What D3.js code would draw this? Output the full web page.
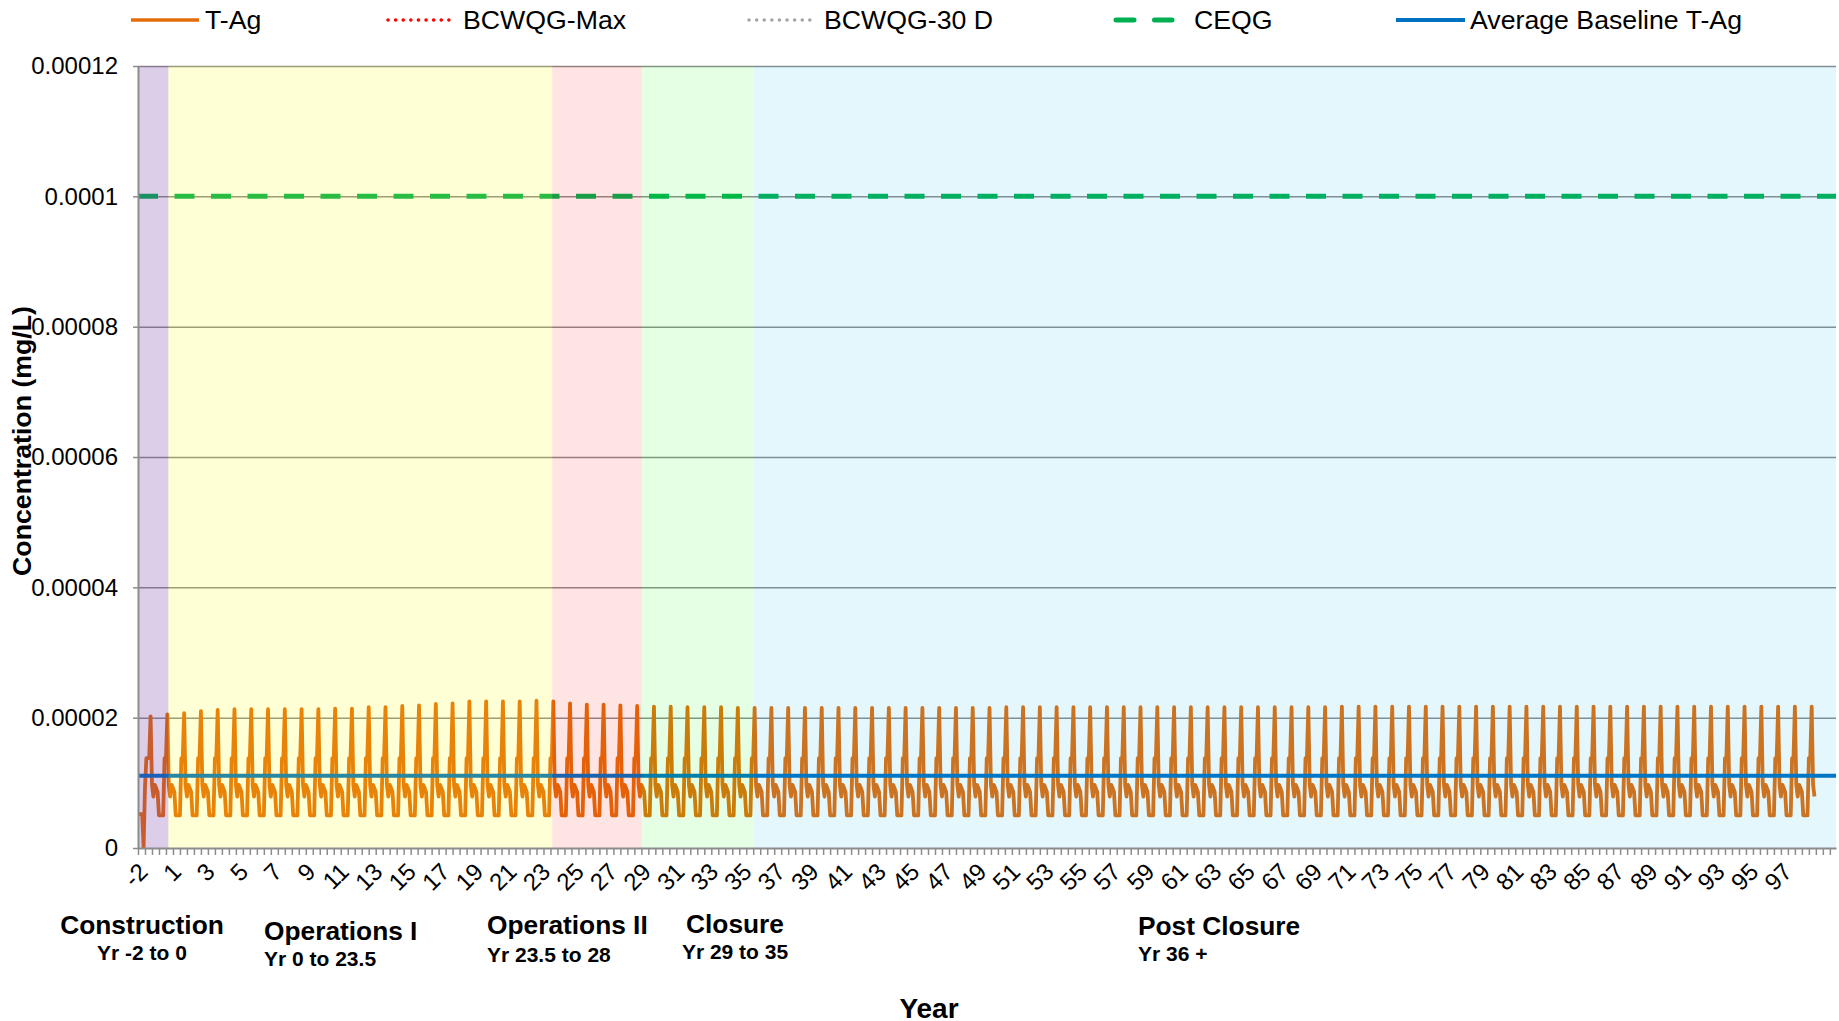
<!DOCTYPE html>
<html><head><meta charset="utf-8">
<script src="https://cdn.jsdelivr.net/npm/d3@7"></script>
<style>
body{margin:0;background:#fff;}
svg{display:block;font-family:"Liberation Sans",Arial,sans-serif;}
</style>
</head><body>
<svg id="chart" width="1839" height="1021"></svg>
<script>
// ---------------- DATA ----------------
// Annual peak of T-Ag (mg/L), years -2 .. 97 (one freshet peak per year)
const annualPeak = [
 2.02e-5,2.05e-5,2.07e-5,2.10e-5,2.12e-5,2.13e-5,2.13e-5,2.13e-5,2.13e-5,2.13e-5,
 2.13e-5,2.14e-5,2.14e-5,2.16e-5,2.16e-5,2.18e-5,2.19e-5,2.21e-5,2.22e-5,2.25e-5,
 2.25e-5,2.25e-5,2.25e-5,2.26e-5,2.25e-5,2.22e-5,2.20e-5,2.20e-5,2.19e-5,2.18e-5,
 2.17e-5,2.17e-5,2.16e-5,2.16e-5,2.16e-5,2.15e-5,2.15e-5,2.15e-5,2.15e-5,2.15e-5,
 2.15e-5,2.15e-5,2.15e-5,2.15e-5,2.15e-5,2.15e-5,2.15e-5,2.15e-5,2.15e-5,2.15e-5,
 2.15e-5,2.16e-5,2.16e-5,2.16e-5,2.16e-5,2.16e-5,2.16e-5,2.16e-5,2.16e-5,2.16e-5,
 2.16e-5,2.16e-5,2.16e-5,2.16e-5,2.16e-5,2.16e-5,2.16e-5,2.16e-5,2.16e-5,2.16e-5,
 2.16e-5,2.17e-5,2.17e-5,2.17e-5,2.17e-5,2.17e-5,2.17e-5,2.17e-5,2.17e-5,2.17e-5,
 2.17e-5,2.17e-5,2.17e-5,2.17e-5,2.17e-5,2.17e-5,2.17e-5,2.17e-5,2.17e-5,2.17e-5,
 2.17e-5,2.17e-5,2.17e-5,2.17e-5,2.17e-5,2.17e-5,2.17e-5,2.17e-5,2.17e-5,2.17e-5
];
// Typical monthly T-Ag values within a year (month 9 = annual peak, taken from annualPeak)
const monthlyProfile = [9.7e-6, 9.2e-6, 8.6e-6, 5.0e-6, 5.0e-6, 5.0e-6, 5.0e-6, 1.38e-5, 1.38e-5, null, 9.7e-6, 7.9e-6];
// First months of construction (year -2), before the first peak
const constructionStartMonths = [5.2e-6, 5.2e-6, 5.2e-6, 5.2e-6, 0.1e-6, 9.4e-6, 1.38e-5, 1.38e-5, 1.38e-5];
const firstYear = -2;

const avgBaseline = 1.11e-5;      // Average Baseline T-Ag
const ceqg = 0.0001;              // CEQG
const bcwqgMax = 0.003;           // off-scale
const bcwqg30 = 0.0015;           // off-scale

// Project phases (band edges in years as drawn)
const phaseNames = ["Construction", "Operations I", "Operations II", "Closure", "Post Closure"];
const phaseRanges = ["Yr -2 to 0", "Yr 0 to 23.5", "Yr 23.5 to 28", "Yr 29 to 35", "Yr 36 +"];
const phaseStart = [-2, -0.19, 22.69, 28.02, 34.71];
const phaseEnd = [-0.19, 22.69, 28.02, 34.71, 99.2];

// Axes
const yTickValues = [0, 0.00002, 0.00004, 0.00006, 0.00008, 0.0001, 0.00012];
const yTickLabels = ["0", "0.00002", "0.00004", "0.00006", "0.00008", "0.0001", "0.00012"];
const xTickLabels = ["-2","1","3","5","7","9","11","13","15","17","19","21","23","25","27","29","31","33","35","37",
 "39","41","43","45","47","49","51","53","55","57","59","61","63","65","67","69","71","73","75","77",
 "79","81","83","85","87","89","91","93","95","97"];
const xTickYears = xTickLabels.map((l, i) => -1.5 + 2 * i);

const legendNames = ["T-Ag", "BCWQG-Max", "BCWQG-30 D", "CEQG", "Average Baseline T-Ag"];

// ---------------- BUILD SERIES ----------------
const series = [];
annualPeak.forEach((pk, yi) => {
  for (let mm = 0; mm < 12; mm++) {
    const m = yi * 12 + mm;
    let v;
    if (yi === 0 && mm < constructionStartMonths.length) v = constructionStartMonths[mm];
    else if (mm === 9) v = pk;
    else v = monthlyProfile[mm];
    series.push({t: firstYear + m / 12, v});
  }
});

// ---------------- DRAW ----------------
const svg = d3.select("#chart");
const L = 138, R = 1836, T = 66, B = 848;
const x = d3.scaleLinear().domain([-2, 99.2]).range([L, R]);
const y = d3.scaleLinear().domain([0, 0.00012]).range([B, T]);
const gridCol = "#8c8c8c";

svg.append("defs").append("clipPath").attr("id", "clip")
  .append("rect").attr("x", L).attr("y", T).attr("width", R - L).attr("height", B - T);

// gridlines
svg.append("g").attr("transform", `translate(${L},0)`)
  .call(d3.axisLeft(y).tickValues(yTickValues.slice(1)).tickSize(-(R - L)).tickFormat(""))
  .call(g => g.select(".domain").remove())
  .call(g => g.selectAll("line").attr("stroke", gridCol).attr("stroke-width", 1.5));

const plot = svg.append("g").attr("clip-path", "url(#clip)");

// reference lines
plot.append("line").attr("x1", L).attr("x2", R).attr("y1", y(bcwqgMax)).attr("y2", y(bcwqgMax))
  .attr("stroke", "#ff0000").attr("stroke-width", 3).attr("stroke-dasharray", "3,4");
plot.append("line").attr("x1", L).attr("x2", R).attr("y1", y(bcwqg30)).attr("y2", y(bcwqg30))
  .attr("stroke", "#a6a6a6").attr("stroke-width", 3).attr("stroke-dasharray", "3,4");
plot.append("line").attr("x1", L).attr("x2", R).attr("y1", y(ceqg)).attr("y2", y(ceqg))
  .attr("stroke", "#00b050").attr("stroke-width", 5).attr("stroke-dasharray", "20,16.5");

// T-Ag
plot.append("path").datum(series)
  .attr("fill", "none").attr("stroke", "#e46c0a").attr("stroke-width", 3.8)
  .attr("stroke-linejoin", "round")
  .attr("d", d3.line().x(d => x(d.t)).y(d => y(d.v)));

// baseline
plot.append("line").attr("x1", L).attr("x2", R).attr("y1", y(avgBaseline)).attr("y2", y(avgBaseline))
  .attr("stroke", "#0070c0").attr("stroke-width", 4);

// phase bands (translucent overlay)
const bandFill = ["rgba(112,48,160,0.245)", "rgba(255,255,0,0.16)", "rgba(255,0,0,0.105)", "rgba(0,255,0,0.105)", "rgba(0,176,240,0.105)"];
svg.append("g").selectAll("rect").data(phaseNames).join("rect")
  .attr("x", (d, i) => x(phaseStart[i]))
  .attr("width", (d, i) => x(phaseEnd[i]) - x(phaseStart[i]))
  .attr("y", T).attr("height", B - T)
  .attr("fill", (d, i) => bandFill[i]);

// y axis
svg.append("g").attr("transform", `translate(${L},0)`)
  .call(d3.axisLeft(y).tickValues(yTickValues).tickFormat((d, i) => yTickLabels[i]).tickSizeInner(5).tickSizeOuter(0).tickPadding(15))
  .call(g => g.select(".domain").attr("stroke", gridCol).attr("stroke-width", 2))
  .call(g => g.selectAll("line").attr("stroke", gridCol).attr("stroke-width", 1.5))
  .call(g => g.selectAll("text").attr("font-size", 24).attr("fill", "#000")
      .attr("font-family", "'Liberation Sans', Arial, sans-serif"));

// x axis with minor tick marks (every 5 months)
const monthTicks = d3.range(0, 1214, 5).map(m => firstYear + m / 12);
svg.append("g").attr("transform", `translate(0,${B})`)
  .call(d3.axisBottom(x).tickValues(monthTicks).tickSizeInner(7).tickSizeOuter(0).tickFormat(""))
  .call(g => g.select(".domain").attr("stroke", gridCol).attr("stroke-width", 2))
  .call(g => g.selectAll("line").attr("stroke", gridCol).attr("stroke-width", 1.5));

// x tick labels
svg.append("g").attr("transform", `translate(0,${B})`)
  .call(d3.axisBottom(x).tickValues(xTickYears).tickSize(0).tickFormat((d, i) => xTickLabels[i]))
  .call(g => g.select(".domain").remove())
  .call(g => g.selectAll(".tick text")
     .attr("font-size", 24).attr("fill", "#000")
     .attr("font-family", "'Liberation Sans', Arial, sans-serif")
     .attr("text-anchor", "end").attr("y", 0).attr("dy", "0.72em")
     .attr("transform", "translate(-10,13) rotate(-45)"));

// axis titles
svg.append("text").attr("transform", "translate(31,441) rotate(-90)")
  .attr("text-anchor", "middle").attr("font-weight", "bold").attr("font-size", 26.7)
  .text("Concentration (mg/L)");
svg.append("text").attr("x", 929).attr("y", 1018).attr("text-anchor", "middle")
  .attr("font-weight", "bold").attr("font-size", 28).text("Year");

// phase labels
const phaseLabelPos = [
  {x: 142, anchor: "middle", y1: 934, y2: 960},
  {x: 264, anchor: "start", y1: 940, y2: 966},
  {x: 487, anchor: "start", y1: 934, y2: 962},
  {x: 735, anchor: "middle", y1: 933, y2: 959},
  {x: 1138, anchor: "start", y1: 935, y2: 961}
];
const pl = svg.append("g").attr("font-weight", "bold");
phaseNames.forEach((n, i) => {
  const p = phaseLabelPos[i];
  pl.append("text").attr("x", p.x).attr("y", p.y1).attr("text-anchor", p.anchor).attr("font-size", 26.3).text(n);
  pl.append("text").attr("x", p.x).attr("y", p.y2).attr("text-anchor", p.anchor).attr("font-size", 21).text(phaseRanges[i]);
});

// legend
const legendItems = [
  {x1: 131, x2: 199, tx: 205, color: "#e46c0a", w: 3.5, dash: null, cap: "butt"},
  {x1: 388, x2: 455, tx: 463, color: "#ff0000", w: 3.5, dash: "0.1,7.5", cap: "round"},
  {x1: 749, x2: 817, tx: 824, color: "#a6a6a6", w: 3.5, dash: "0.1,7.5", cap: "round"},
  {x1: 1116, x2: 1172, tx: 1194, color: "#00b050", w: 5, dash: "18,20.5", cap: "round"},
  {x1: 1396, x2: 1465, tx: 1470, color: "#0070c0", w: 4, dash: null, cap: "butt"}
];
const lg = svg.append("g");
legendNames.forEach((n, i) => {
  const it = legendItems[i];
  const ln = lg.append("line").attr("x1", it.x1).attr("x2", it.x2).attr("y1", 20).attr("y2", 20)
    .attr("stroke", it.color).attr("stroke-width", it.w).attr("stroke-linecap", it.cap);
  if (it.dash) ln.attr("stroke-dasharray", it.dash);
  lg.append("text").attr("x", it.tx).attr("y", 29).attr("font-size", 26.7).text(n);
});
</script>
</body></html>
